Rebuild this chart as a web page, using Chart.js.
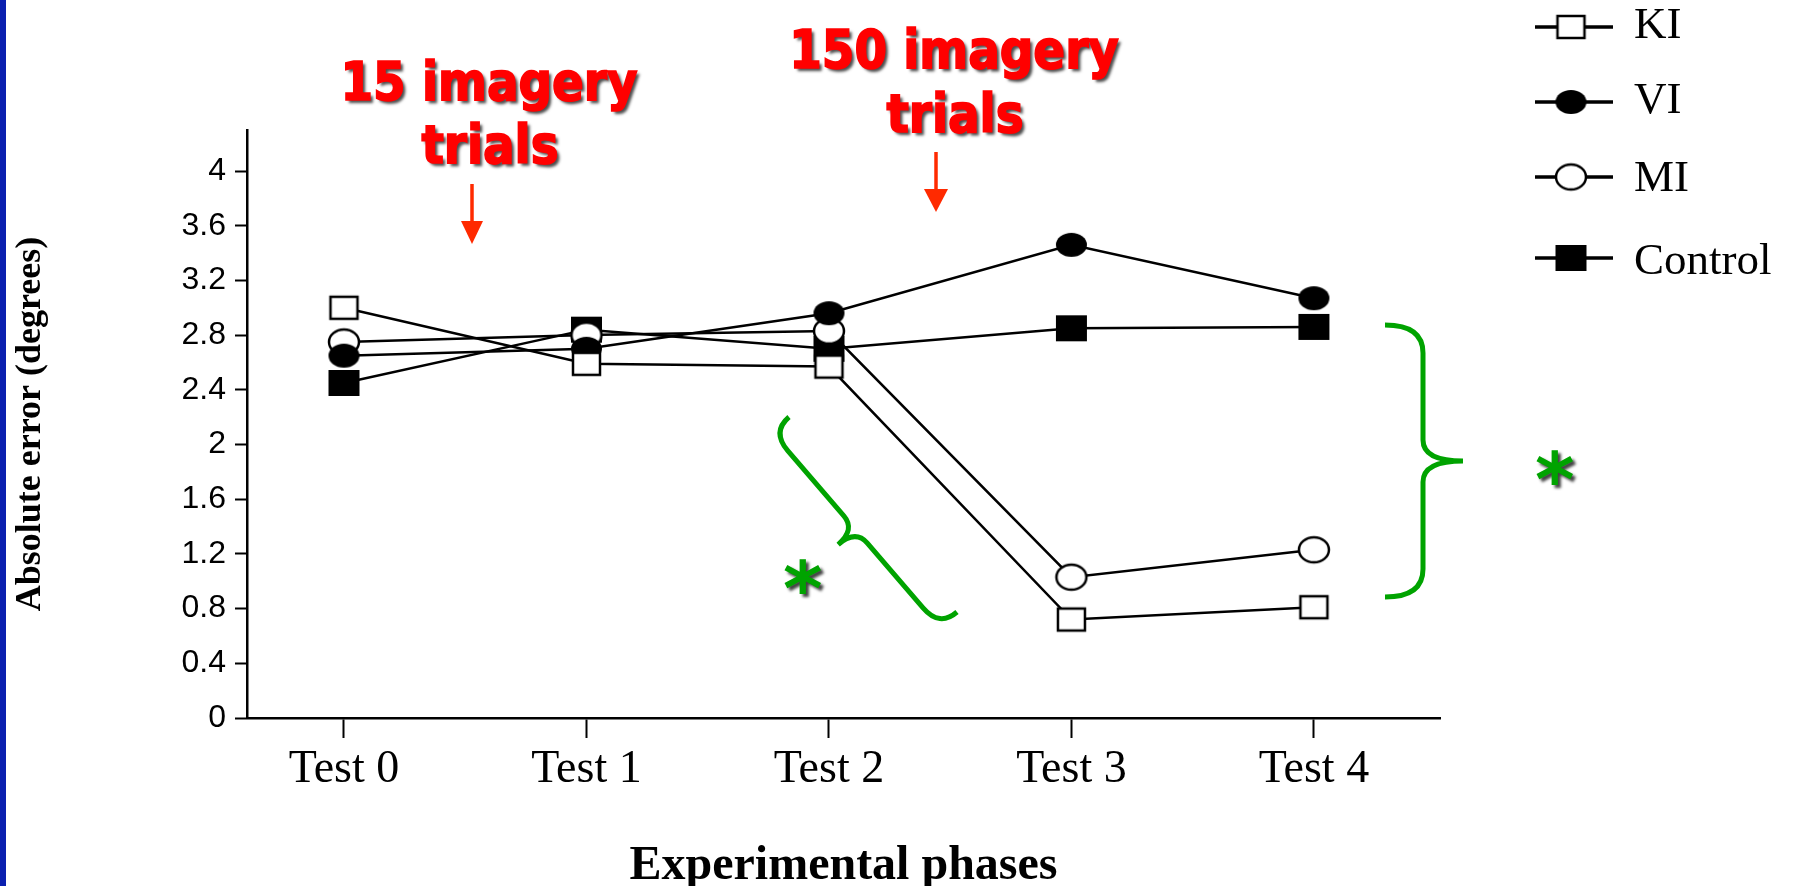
<!DOCTYPE html>
<html>
<head>
<meta charset="utf-8">
<script src="https://cdn.jsdelivr.net/npm/chart.js@4.4.0/dist/chart.umd.min.js"></script>
<style>
  html, body { margin: 0; padding: 0; background: #ffffff; }
  #wrap { position: relative; width: 1800px; height: 886px; }
  canvas { display: block; }
</style>
</head>
<body>
<div id="wrap"><canvas id="c" width="1800" height="886"></canvas></div>
<script>
// ---------------- data ----------------
const PHASES = ['Test 0', 'Test 1', 'Test 2', 'Test 3', 'Test 4'];
const SERIES_NAMES = ['KI', 'VI', 'MI', 'Control'];
const KI = [3.00, 2.59, 2.57, 0.72, 0.81];
const VI = [2.65, 2.70, 2.96, 3.46, 3.07];
const MI = [2.75, 2.80, 2.83, 1.03, 1.23];
const CONTROL = [2.45, 2.84, 2.70, 2.85, 2.86];
const Y_TICKS = [0, 0.4, 0.8, 1.2, 1.6, 2, 2.4, 2.8, 3.2, 3.6, 4];
const Y_TICK_LABELS = ['0', '0.4', '0.8', '1.2', '1.6', '2', '2.4', '2.8', '3.2', '3.6', '4'];
const X_TITLE = 'Experimental phases';
const Y_TITLE = 'Absolute error (degrees)';
const NOTE_1 = ['15 imagery', 'trials'];
const NOTE_2 = ['150 imagery', 'trials'];

// ---------------- styling helpers ----------------
function marker(shape, filled, w, h, lw) {
  const c = document.createElement('canvas');
  const pad = Math.ceil(lw) + 1;
  c.width = w + 2 * pad; c.height = h + 2 * pad;
  const g = c.getContext('2d');
  g.beginPath();
  if (shape === 'rect') g.rect(pad, pad, w, h);
  else g.ellipse(c.width / 2, c.height / 2, w / 2, h / 2, 0, 0, Math.PI * 2);
  g.fillStyle = filled ? '#000' : '#fff';
  g.fill();
  if (!filled) { g.lineWidth = lw; g.strokeStyle = '#000'; g.stroke(); }
  return c;
}
const MARKERS = [
  marker('rect', false, 27, 22, 2.5),   // KI
  marker('ellipse', true, 31, 24, 0),   // VI
  marker('ellipse', false, 30, 25, 2.5),// MI
  marker('rect', true, 31, 26, 0)       // Control
];
const SERIES = [KI, VI, MI, CONTROL];

const datasets = SERIES.map((vals, k) => ({
  label: SERIES_NAMES[k],
  data: vals.map((v, i) => ({ x: i, y: v })),
  borderColor: '#000',
  backgroundColor: '#000',
  borderWidth: 2.5,
  tension: 0,
  fill: false,
  pointStyle: MARKERS[k],
  pointRadius: 14,
  pointHoverRadius: 14,
  clip: false
}));

const GREEN = '#00a300';

function drawBrace(ctx, ax, ay, bx, by, side, d1, d2, r, r2) {
  const L = Math.hypot(bx - ax, by - ay);
  const ux = (bx - ax) / L, uy = (by - ay) / L;
  const nx = side * uy, ny = -side * ux;
  const P = (s, t) => [ax + ux * s + nx * t, ay + uy * s + ny * t];
  const m = L / 2;
  ctx.beginPath();
  ctx.moveTo(...P(0, 0));
  ctx.quadraticCurveTo(...P(0, d1), ...P(r, d1));
  ctx.lineTo(...P(m - r2, d1));
  ctx.quadraticCurveTo(...P(m, d1), ...P(m, d1 + d2));
  ctx.quadraticCurveTo(...P(m, d1), ...P(m + r2, d1));
  ctx.lineTo(...P(L - r, d1));
  ctx.quadraticCurveTo(...P(L, d1), ...P(L, 0));
  ctx.stroke();
}

function drawStar(ctx, cx, cy, size) {
  ctx.save();
  ctx.font = 'bold 100px "DejaVu Sans", sans-serif';
  const mt = ctx.measureText('*');
  const bw = mt.actualBoundingBoxLeft + mt.actualBoundingBoxRight;
  const k = size / bw;
  ctx.translate(cx, cy);
  ctx.scale(k, k);
  const offX = (mt.actualBoundingBoxLeft - mt.actualBoundingBoxRight) / 2;
  const offY = (mt.actualBoundingBoxAscent - mt.actualBoundingBoxDescent) / 2;
  ctx.shadowColor = 'rgba(0,0,0,0.75)';
  ctx.shadowOffsetX = 3; ctx.shadowOffsetY = 3; ctx.shadowBlur = 3;
  ctx.fillStyle = GREEN;
  ctx.textAlign = 'left';
  ctx.textBaseline = 'alphabetic';
  ctx.fillText('*', offX, offY);
  ctx.restore();
}

const background = {
  id: 'background',
  beforeDraw(chart) {
    const ctx = chart.ctx;
    ctx.save();
    ctx.fillStyle = '#fff';
    ctx.fillRect(0, 0, chart.width, chart.height);
    ctx.fillStyle = '#0b20b0';
    ctx.fillRect(0, 0, 6, chart.height);
    ctx.restore();
  }
};

const LEGEND_SYM_Y = [27, 102, 177, 258];
const LEGEND_TXT_Y = [26, 101, 179, 262];
const legendPlugin = {
  id: 'customLegend',
  afterDraw(chart) {
    const ctx = chart.ctx;
    ctx.save();
    chart.data.datasets.forEach((ds, i) => {
      const y = LEGEND_SYM_Y[i];
      ctx.strokeStyle = '#000';
      ctx.lineWidth = 3.5;
      ctx.beginPath(); ctx.moveTo(1535, y); ctx.lineTo(1613, y); ctx.stroke();
      const img = ds.pointStyle;
      ctx.drawImage(img, 1571 - img.width / 2, y - img.height / 2);
      ctx.fillStyle = '#000';
      ctx.font = '45px "Liberation Serif", "Times New Roman", serif';
      ctx.textAlign = 'left';
      ctx.textBaseline = 'middle';
      ctx.fillText(ds.label, 1634, LEGEND_TXT_Y[i]);
    });
    ctx.restore();
  }
};

const annotations = {
  id: 'annotations',
  afterDraw(chart) {
    const ctx = chart.ctx;
    ctx.save();
    ctx.font = 'bold 53px "DejaVu Sans Condensed", "DejaVu Sans", sans-serif';
    const sx = 297 / ctx.measureText(NOTE_1[0]).width;
    const redText = (txt, cx, base) => {
      ctx.save();
      ctx.translate(cx, base);
      ctx.scale(sx, 1);
      ctx.shadowColor = 'rgba(0,0,0,0.7)';
      ctx.shadowOffsetX = 3; ctx.shadowOffsetY = 3; ctx.shadowBlur = 3;
      ctx.fillStyle = '#ff0000';
      ctx.strokeStyle = '#ff0000';
      ctx.lineWidth = 1.6;
      ctx.textAlign = 'center';
      ctx.textBaseline = 'alphabetic';
      ctx.fillText(txt, 0, 0);
      ctx.shadowColor = 'rgba(0,0,0,0)';
      ctx.strokeText(txt, 0, 0);
      ctx.restore();
    };
    redText(NOTE_1[0], 489, 100);
    redText(NOTE_1[1], 490, 163);
    redText(NOTE_2[0], 954, 68);
    redText(NOTE_2[1], 955, 132);

    const arrow = (x, y0, y1, headLen, halfW) => {
      ctx.strokeStyle = '#ff2a00'; ctx.fillStyle = '#ff2a00';
      ctx.lineWidth = 3.5;
      ctx.beginPath(); ctx.moveTo(x, y0); ctx.lineTo(x, y1 - headLen + 1); ctx.stroke();
      ctx.beginPath();
      ctx.moveTo(x - halfW, y1 - headLen); ctx.lineTo(x + halfW, y1 - headLen); ctx.lineTo(x, y1);
      ctx.closePath(); ctx.fill();
    };
    arrow(472, 184, 244, 23, 11);
    arrow(936, 152, 212, 23, 12);

    ctx.strokeStyle = GREEN;
    ctx.lineWidth = 5;
    ctx.lineCap = 'butt';
    drawBrace(ctx, 1385, 325, 1385, 597, 1, 38, 40, 28, 21);
    drawBrace(ctx, 789, 417, 957, 612, -1, 23, 23, 25, 18);
    drawStar(ctx, 803, 576, 37);
    drawStar(ctx, 1555, 467, 37);
    ctx.restore();
  }
};

Chart.defaults.font.family = '"Liberation Serif", "Times New Roman", serif';
Chart.defaults.color = '#000';

new Chart(document.getElementById('c'), {
  type: 'line',
  data: { datasets },
  plugins: [background, legendPlugin, annotations],
  options: {
    responsive: false,
    animation: false,
    events: [],
    devicePixelRatio: 1,
    layout: { padding: { left: 0, top: 130, right: 360, bottom: 0 } },
    plugins: { legend: { display: false }, tooltip: { enabled: false }, title: { display: false } },
    scales: {
      x: {
        type: 'linear',
        min: -0.4,
        max: 4.52,
        afterBuildTicks: s => { s.ticks = PHASES.map((_, i) => ({ value: i })); },
        afterFit: s => { s.height = 886 - 718; },
        ticks: {
          callback: v => PHASES[v],
          font: { family: '"Liberation Serif", "Times New Roman", serif', size: 46 },
          color: '#000', padding: 4, maxRotation: 0, autoSkip: false
        },
        grid: { drawOnChartArea: false, drawTicks: true, tickLength: 20, tickWidth: 2, tickColor: '#000' },
        border: { display: true, color: '#000', width: 2.5 },
        title: {
          display: true, text: X_TITLE, color: '#000',
          font: { family: '"Liberation Serif", "Times New Roman", serif', size: 48, weight: 'bold', lineHeight: 0.8 },
          padding: { top: 0, bottom: 0 }
        }
      },
      y: {
        type: 'linear',
        min: 0,
        max: 4.3,
        afterBuildTicks: s => { s.ticks = Y_TICKS.map(v => ({ value: v })); },
        afterFit: s => { s.width = 247; },
        ticks: {
          callback: (v, i) => Y_TICK_LABELS[i],
          font: { family: '"Liberation Sans", Arial, sans-serif', size: 32 },
          color: '#000', padding: 9, crossAlign: 'near'
        },
        grid: { drawOnChartArea: false, drawTicks: true, tickLength: 12, tickWidth: 2, tickColor: '#000' },
        border: { display: true, color: '#000', width: 2.5 },
        title: {
          display: true, text: Y_TITLE, color: '#000',
          font: { family: '"Liberation Serif", "Times New Roman", serif', size: 36, weight: 'bold', lineHeight: 1.2 },
          padding: { top: 9, bottom: 0 }
        }
      }
    }
  }
});
</script>
</body>
</html>
